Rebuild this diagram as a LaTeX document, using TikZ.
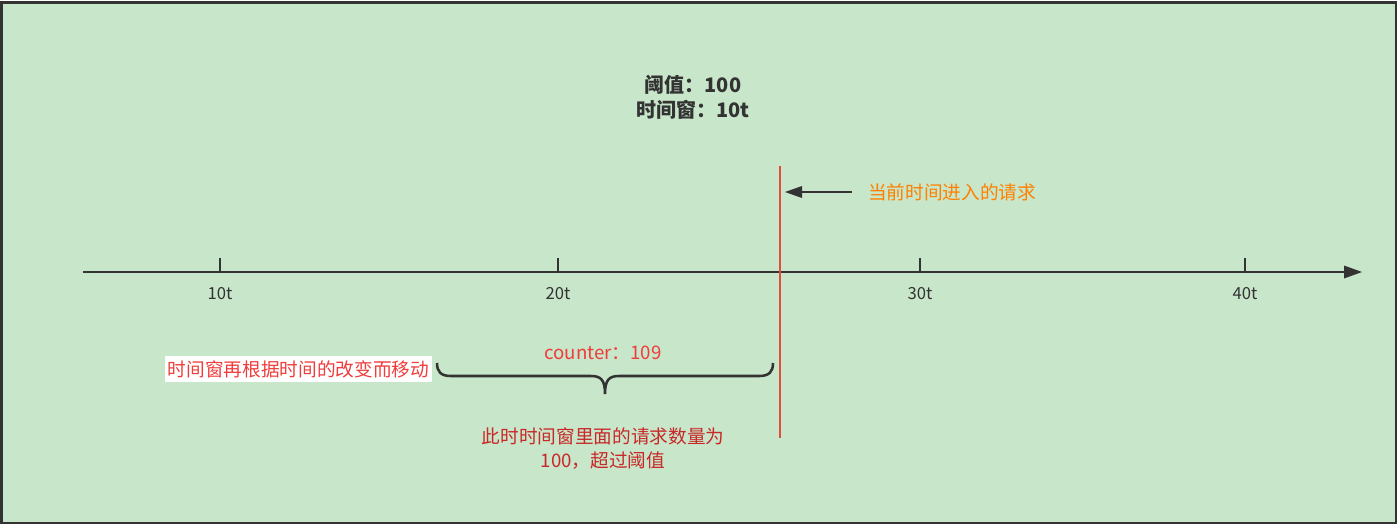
\documentclass[tikz,border=0pt]{standalone}
\usepackage{fontspec}
\setmainfont{Noto Sans CJK SC}
\usetikzlibrary{positioning}
\definecolor{bggreen}{RGB}{200,230,201}
\definecolor{framegray}{RGB}{51,51,51}
\definecolor{linered}{RGB}{226,76,60}
\definecolor{txtred}{RGB}{240,60,60}
\definecolor{darkred}{RGB}{200,40,40}
\definecolor{reqorange}{RGB}{255,128,0}
\tikzset{
    axisline/.style={framegray, line width=1.9pt},
    tickline/.style={framegray, line width=1.8pt},
    ticklabel/.style={framegray, font=\fontsize{12.5}{14}\selectfont, inner sep=0pt},
    note/.style={font=\fontsize{14}{17}\selectfont, inner sep=0pt, align=center}
}
\begin{document}
\begin{tikzpicture}[x=0.75pt, y=-0.75pt]
    \useasboundingbox (0,0) rectangle (1399,526);
    \fill [white] (0,0) rectangle (1399,526);
    \draw [framegray, line width=1.6pt, fill=bggreen] (1.5,2.5) rectangle (1396,523);
    % title
    \node [note, framegray, font=\fontsize{15}{19}\selectfont\bfseries] (title) at (693,97) {阈值：100\\时间窗：10t};
    % time axis
    \coordinate (axs) at (83,272);
    \coordinate (axe) at (1362,272);
    \draw [axisline] (axs) -- ++(1262,0);
    \fill [framegray] (axe) -- ++(-18,-6.5) -- ++(0,13) -- cycle;
    \foreach \x/\lab in {220/10t, 558/20t, 920/30t, 1245/40t} {
        \draw [tickline] (\x,258) -- (\x,272);
        \node [ticklabel] (t\lab) at (\x,294) {\lab};
    }
    % current time
    \coordinate (now top) at (780,166);
    \coordinate (now bot) at (780,438);
    \draw [linered, line width=1.9pt] (now top) -- (now bot);
    \coordinate (reqtip) at (785,192);
    \node [note, reqorange, anchor=west, inner xsep=12pt] (req) at (852,192) {当前时间进入的请求};
    \draw [framegray, line width=1.9pt] (req.west) -- (800,192);
    \fill [framegray] (reqtip) -- ++(17,-6) -- ++(0,12) -- cycle;
    % window brace
    \coordinate (bl) at (437,363);
    \coordinate (br) at (773,363);
    \coordinate (btip) at (605,394);
    \draw [framegray, line width=1.9pt] (bl) .. controls (437,372) and (441,376) .. (451,376)
        -- (591,376) .. controls (601,376) and (605,380) .. (btip)
        .. controls (605,380) and (609,376) .. (619,376)
        -- (759,376) .. controls (769,376) and (773,372) .. (br);
    \node [note, txtred] (counter) at (603,353) {counter：109};
    \node [note, txtred, fill=white, inner xsep=2pt, inner ysep=3pt, anchor=east] (move) at (432,369) {时间窗再根据时间的改变而移动};
    \node [note, darkred, font=\fontsize{14}{18}\selectfont] (over) at (603,449) {此时时间窗里面的请求数量为\\100，超过阈值};
\end{tikzpicture}
\end{document}
